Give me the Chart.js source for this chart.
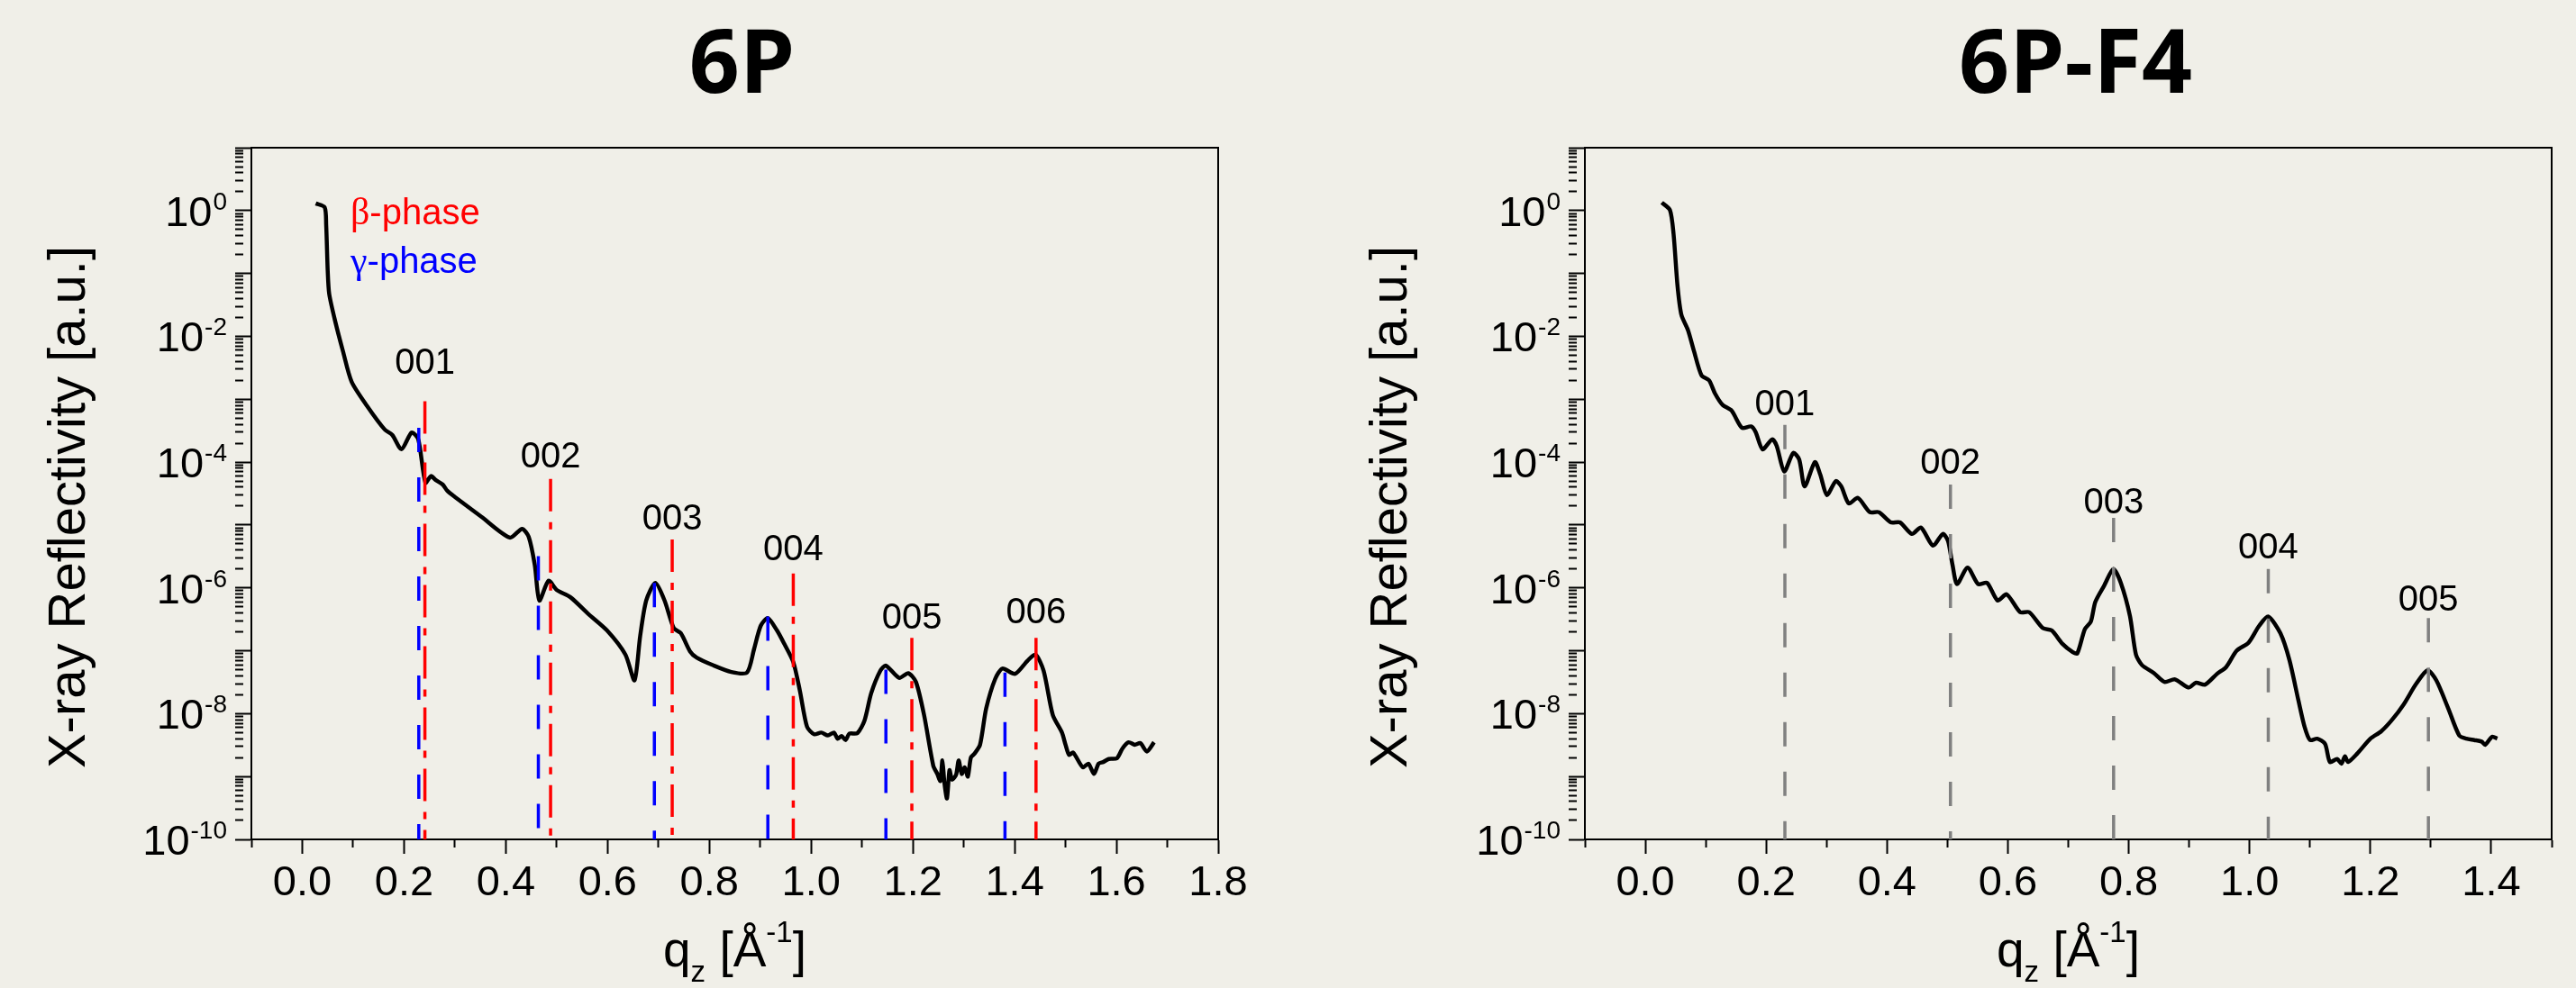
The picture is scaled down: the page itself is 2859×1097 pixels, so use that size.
<!DOCTYPE html>
<html>
<head>
<meta charset="utf-8">
<script src="https://cdn.jsdelivr.net/npm/chart.js@4.4.1/dist/chart.umd.min.js"></script>
<style>
  html, body { margin: 0; padding: 0; background: #f0efe8; }
  #wrap { position: relative; width: 2859px; height: 1097px; overflow: hidden; }
  canvas { position: absolute; top: 0; }
</style>
</head>
<body>
<div id="wrap">
  <canvas id="c6p" width="1430" height="1097" style="left:0"></canvas>
  <canvas id="cf4" width="1429" height="1097" style="left:1430px"></canvas>
</div>
<script>
// ---- 6P curve (q in 1/A, reflectivity a.u.)
const q6P = [0.0265, 0.044, 0.047, 0.050, 0.053, 0.065, 0.080, 0.097, 0.127, 0.162,
  0.177, 0.195, 0.215, 0.228, 0.242, 0.253, 0.262, 0.276, 0.285, 0.301,
  0.352, 0.408, 0.432, 0.445, 0.457, 0.466, 0.484, 0.500, 0.527, 0.563,
  0.599, 0.635, 0.653, 0.664, 0.676, 0.694, 0.712, 0.730, 0.744, 0.762,
  0.775, 0.807, 0.843, 0.874, 0.888, 0.901, 0.915, 0.933, 0.947, 0.965,
  0.978, 0.992, 1.006, 1.020, 1.033, 1.045, 1.052, 1.060, 1.068, 1.075,
  1.091, 1.105, 1.118, 1.136, 1.147, 1.173, 1.191, 1.206, 1.222, 1.240,
  1.248, 1.254, 1.258, 1.262, 1.267, 1.272, 1.277, 1.285, 1.290, 1.296,
  1.302, 1.308, 1.314, 1.321, 1.332, 1.344, 1.362, 1.376, 1.401, 1.425,
  1.441, 1.457, 1.475, 1.493, 1.500, 1.507, 1.515, 1.534, 1.545, 1.556,
  1.565, 1.574, 1.585, 1.601, 1.612, 1.624, 1.636, 1.647, 1.660, 1.674];
const r6P = [1.3, 1.13, 0.59, 0.11, 0.047, 0.017, 5.8e-3, 1.9e-3, 7.9e-4, 3.3e-4,
  2.7e-4, 1.6e-4, 2.95e-4, 2.3e-4, 4.7e-5, 6.0e-5, 5.2e-5, 4.4e-5, 3.5e-5, 2.75e-5,
  1.35e-5, 6.3e-6, 8.7e-6, 6.5e-6, 2.3e-6, 6.3e-7, 1.3e-6, 9.3e-7, 7.1e-7, 3.8e-7,
  2.1e-7, 8.7e-8, 3.4e-8, 1.7e-7, 6.3e-7, 1.2e-6, 6.3e-7, 2.3e-7, 1.9e-7, 9.8e-8,
  7.8e-8, 5.9e-8, 4.6e-8, 4.5e-8, 1.07e-7, 2.5e-7, 3.3e-7, 2.1e-7, 1.3e-7, 6.6e-8,
  2.3e-8, 6.2e-9, 4.7e-9, 5.0e-9, 4.5e-9, 5.0e-9, 4.0e-9, 4.4e-9, 3.8e-9, 4.8e-9,
  4.9e-9, 7.8e-9, 2.1e-8, 4.8e-8, 5.8e-8, 3.7e-8, 4.4e-8, 3.2e-8, 9.5e-9, 1.5e-9,
  1.1e-9, 8.5e-10, 1.8e-9, 7.9e-10, 4.5e-10, 1.26e-9, 8.9e-10, 1.07e-9, 1.8e-9, 1.1e-9,
  1.4e-9, 1.0e-9, 2.0e-9, 2.3e-9, 3.2e-9, 1.2e-8, 3.6e-8, 5.2e-8, 4.3e-8, 6.9e-8,
  8.7e-8, 4.8e-8, 9.5e-9, 5.0e-9, 3.2e-9, 2.2e-9, 2.4e-9, 1.4e-9, 1.6e-9, 1.1e-9,
  1.6e-9, 1.7e-9, 1.9e-9, 1.95e-9, 2.8e-9, 3.5e-9, 3.2e-9, 3.4e-9, 2.5e-9, 3.5e-9];

// beta / gamma phase Bragg positions (top end of each marker line)
const betaQ = [0.241, 0.488, 0.727, 0.965, 1.198, 1.442];
const betaTop = [9.3e-4, 5.4e-5, 5.9e-6, 1.7e-6, 1.6e-7, 1.6e-7];
const gammaQ = [0.229, 0.464, 0.692, 0.915, 1.147, 1.381];
const gammaTop = [3.5e-4, 3.2e-6, 1.2e-6, 3.5e-7, 5.0e-8, 4.5e-8];
const peakNames6P = ['001', '002', '003', '004', '005', '006'];
const peakLabelY6P = [3.6e-3, 1.2e-4, 1.2e-5, 4.0e-6, 3.2e-7, 3.9e-7];

// ---- 6P-F4 curve
const qF4 = [0.0273, 0.0408, 0.0468, 0.0532, 0.0597, 0.0706, 0.0806, 0.093, 0.1055, 0.1154,
  0.128, 0.1428, 0.160, 0.175, 0.1826, 0.194, 0.210, 0.2175, 0.2299, 0.2448,
  0.2547, 0.2637, 0.2806, 0.2896, 0.3005, 0.3154, 0.3244, 0.3368, 0.3517, 0.3716,
  0.3866, 0.4064, 0.4214, 0.4413, 0.4562, 0.4761, 0.4925, 0.501, 0.5085, 0.516,
  0.5334, 0.5507, 0.5657, 0.5831, 0.598, 0.6204, 0.6354, 0.6577, 0.6727, 0.690,
  0.7075, 0.715, 0.7274, 0.7373, 0.7448, 0.7597, 0.7746, 0.787, 0.802, 0.812,
  0.822, 0.842, 0.8592, 0.8766, 0.899, 0.9114, 0.9264, 0.9463, 0.9612, 0.9786,
  0.9985, 1.016, 1.031, 1.051, 1.066, 1.081, 1.091, 1.100, 1.112, 1.125,
  1.133, 1.145, 1.152, 1.158, 1.163, 1.178, 1.200, 1.2175, 1.235, 1.255,
  1.275, 1.2945, 1.309, 1.329, 1.347, 1.359, 1.372, 1.384, 1.390, 1.4015, 1.41];
const rF4 = [1.34, 1.02, 0.42, 0.065, 0.022, 0.0126, 5.8e-3, 2.4e-3, 2.0e-3, 1.23e-3,
  8.1e-4, 6.6e-4, 3.5e-4, 3.7e-4, 3.0e-4, 1.6e-4, 2.3e-4, 1.8e-4, 7.1e-5, 1.4e-4,
  1.1e-4, 4.1e-5, 1.0e-4, 6.3e-5, 3.0e-5, 5.0e-5, 4.1e-5, 2.2e-5, 2.7e-5, 1.6e-5,
  1.6e-5, 1.1e-5, 1.1e-5, 7.2e-6, 9.1e-6, 4.7e-6, 7.2e-6, 5.6e-6, 2.3e-6, 1.15e-6,
  2.1e-6, 1.15e-6, 1.2e-6, 6.3e-7, 7.9e-7, 4.1e-7, 4.1e-7, 2.3e-7, 2.1e-7, 1.3e-7,
  9.5e-8, 9.1e-8, 2.2e-7, 2.9e-7, 6.0e-7, 1.1e-6, 2.0e-6, 1.2e-6, 3.6e-7, 8.7e-8,
  5.9e-8, 4.4e-8, 3.2e-8, 3.5e-8, 2.6e-8, 3.1e-8, 2.9e-8, 4.3e-8, 5.5e-8, 1.0e-7,
  1.35e-7, 2.5e-7, 3.5e-7, 1.9e-7, 7.1e-8, 1.6e-8, 6.2e-9, 3.8e-9, 4.0e-9, 3.3e-9,
  1.7e-9, 1.9e-9, 1.6e-9, 2.1e-9, 1.7e-9, 2.3e-9, 4.0e-9, 5.2e-9, 7.8e-9, 1.4e-8,
  2.9e-8, 4.9e-8, 3.4e-8, 1.2e-8, 4.5e-9, 4.0e-9, 3.8e-9, 3.6e-9, 3.2e-9, 4.3e-9, 4.0e-9];

const f4PeakQ = [0.231, 0.505, 0.775, 1.031, 1.296];
const f4PeakTop = [3.9e-4, 4.4e-5, 1.3e-5, 2.0e-6, 3.3e-7];
const peakNamesF4 = ['001', '002', '003', '004', '005'];
const peakLabelYF4 = [8.1e-4, 9.3e-5, 2.2e-5, 4.3e-6, 6.3e-7];

// ---- axes
const yMin = 1e-10, yMax = 10;
const yDecades = [-10, -9, -8, -7, -6, -5, -4, -3, -2, -1, 0, 1];
const yMinorSteps = [2, 3, 4, 5, 6, 7, 8, 9];
const yLabelExps = [-10, -8, -6, -4, -2, 0];
const xMajor6P = [0, 0.2, 0.4, 0.6, 0.8, 1.0, 1.2, 1.4, 1.6, 1.8];
const xMinor6P = [-0.1, 0.1, 0.3, 0.5, 0.7, 0.9, 1.1, 1.3, 1.5, 1.7];
const xMajorF4 = [0, 0.2, 0.4, 0.6, 0.8, 1.0, 1.2, 1.4];
const xMinorF4 = [-0.1, 0.1, 0.3, 0.5, 0.7, 0.9, 1.1, 1.3, 1.5];

const FONT = 'Liberation Sans';
const GREEK = 'Liberation Serif';

function tickList(major, minor) {
  return major.map(v => ({ value: v, major: true }))
    .concat(minor.map(v => ({ value: v, major: false })))
    .sort((a, b) => a.value - b.value);
}

function yTickList() {
  const out = [];
  yDecades.forEach(e => {
    const base = Math.pow(10, e);
    out.push({ value: base, major: true });
    if (base < yMax) yMinorSteps.forEach(m => out.push({ value: m * base, major: false }));
  });
  return out.sort((a, b) => a.value - b.value);
}

function toPoints(xs, ys) {
  return xs.map((x, i) => ({ x, y: ys[i] }));
}

// vertical marker line from its top value down to the axis
function marker(q, top, color, dash) {
  return {
    data: [{ x: q, y: top }, { x: q, y: yMin }],
    borderColor: color, borderWidth: 3.5, borderDash: dash,
    pointRadius: 0, tension: 0, fill: false
  };
}

// titles, y tick labels, peak names and frame
const decor = {
  id: 'decor',
  afterDraw(chart, args, o) {
    const { ctx, chartArea: a } = chart;
    const xs = chart.scales.x, ys = chart.scales.y;
    ctx.save();

    // top and right frame
    ctx.strokeStyle = '#000';
    ctx.lineWidth = 2;
    ctx.beginPath();
    ctx.moveTo(a.left, a.top);
    ctx.lineTo(a.right, a.top);
    ctx.lineTo(a.right, a.bottom);
    ctx.stroke();

    ctx.fillStyle = '#000';
    // y tick labels 10^n, right edge fixed
    ctx.textBaseline = 'alphabetic';
    ctx.textAlign = 'left';
    yLabelExps.forEach(e => {
      const py = ys.getPixelForValue(Math.pow(10, e));
      const exp = String(e);
      ctx.font = `28px "${FONT}"`;
      const ew = ctx.measureText(exp).width;
      const ex = a.left - 27 - ew;
      ctx.fillText(exp, ex, py - 1);
      ctx.font = `47px "${FONT}"`;
      const bw = ctx.measureText('10').width;
      ctx.fillText('10', ex - bw - 1, py + 17);
    });

    // peak names
    ctx.font = `40px "${FONT}"`;
    ctx.textAlign = 'center';
    ctx.textBaseline = 'middle';
    o.names.forEach((n, i) => {
      ctx.fillText(n, xs.getPixelForValue(o.nameQ[i]), ys.getPixelForValue(o.nameY[i]));
    });

    // phase legend
    ctx.textAlign = 'left';
    ctx.textBaseline = 'alphabetic';
    (o.legend || []).forEach((l, i) => {
      const by = a.top + 85 + i * 54;
      ctx.fillStyle = l.color;
      ctx.font = `42px "${GREEK}"`;
      ctx.fillText(l.greek, a.left + 110, by);
      const gw = ctx.measureText(l.greek).width;
      ctx.font = `40px "${FONT}"`;
      ctx.fillText(l.rest, a.left + 110 + gw, by);
    });
    ctx.fillStyle = '#000';

    // chart title
    ctx.font = `bold 98px "Open Sans"`;
    ctx.textAlign = 'center';
    ctx.fillText(o.title, (a.left + a.right) / 2 + 8, 103);

    // y axis title
    ctx.save();
    ctx.translate(a.left - o.yTitleGap, (a.top + a.bottom) / 2 + 15);
    ctx.rotate(-Math.PI / 2);
    ctx.font = `58px "${FONT}"`;
    ctx.textAlign = 'center';
    ctx.fillText('X-ray Reflectivity [a.u.]', 0, 0);
    ctx.restore();

    // x axis title: q_z [Å^-1]
    const parts = [
      { t: 'q', size: 55, dy: 0 },
      { t: 'z', size: 33, dy: 17 },
      { t: ' [Å', size: 55, dy: 0 },
      { t: '-1', size: 33, dy: -27 },
      { t: ']', size: 55, dy: 0 }
    ];
    let w = 0;
    parts.forEach(p => { ctx.font = `${p.size}px "${FONT}"`; p.w = ctx.measureText(p.t).width; w += p.w; });
    let px = (a.left + a.right) / 2 - w / 2;
    ctx.textAlign = 'left';
    parts.forEach(p => {
      ctx.font = `${p.size}px "${FONT}"`;
      ctx.fillText(p.t, px, 1073 + p.dy);
      px += p.w;
    });

    ctx.restore();
  }
};

function makeChart(id, cfg) {
  const canvas = document.getElementById(id);
  const W = canvas.width;
  return new Chart(canvas.getContext('2d'), {
    type: 'line',
    data: { datasets: cfg.datasets },
    options: {
      responsive: false,
      animation: false,
      devicePixelRatio: 1,
      layout: { padding: { left: 0, top: 164, right: W - cfg.areaRight, bottom: 0 } },
      plugins: {
        legend: { display: false },
        tooltip: { enabled: false },
        decor: cfg.decor
      },
      scales: {
        x: {
          type: 'linear',
          min: -0.1,
          max: cfg.xMax,
          afterBuildTicks: s => { s.ticks = tickList(cfg.xMajor, cfg.xMinor); },
          afterFit: s => { s.height = 165; },
          border: { display: true, color: '#000', width: 2 },
          grid: {
            display: true, drawOnChartArea: false, drawTicks: true,
            tickLength: 16, tickWidth: 2, tickColor: '#000',
            tickBorderDash: c => (c.tick && !c.tick.major ? [8, 200] : [])
          },
          ticks: {
            autoSkip: false, maxRotation: 0, padding: 5, color: '#000',
            font: { family: FONT, size: 47 },
            callback: (v, i, t) => (t[i].major ? v.toFixed(1) : '')
          }
        },
        y: {
          type: 'logarithmic',
          min: yMin,
          max: yMax,
          afterBuildTicks: s => { s.ticks = yTickList(); },
          afterFit: s => { s.width = cfg.areaLeft; },
          border: { display: true, color: '#000', width: 2 },
          grid: {
            display: true, drawOnChartArea: false, drawTicks: true,
            tickLength: 18, tickWidth: 2, tickColor: '#000',
            tickBorderDash: c => (c.tick && !c.tick.major ? [9, 200] : [])
          },
          ticks: { display: false, autoSkip: false, callback: () => '' }
        }
      }
    },
    plugins: [decor]
  });
}

Chart.defaults.font.family = FONT;
Chart.defaults.color = '#000';

// 6P
const sets6P = [];
betaQ.forEach((q, i) => sets6P.push(marker(q, betaTop[i], '#ff0000', [36, 12, 8, 12])));
gammaQ.forEach((q, i) => sets6P.push(marker(q, gammaTop[i], '#0000ff', [27, 28])));
sets6P.push({
  data: toPoints(q6P, r6P), borderColor: '#000', borderWidth: 4.5,
  pointRadius: 0, tension: 0.25, fill: false
});
makeChart('c6p', {
  datasets: sets6P, areaLeft: 279, areaRight: 1352, xMax: 1.8,
  xMajor: xMajor6P, xMinor: xMinor6P,
  decor: {
    title: '6P', yTitleGap: 185,
    names: peakNames6P, nameQ: betaQ, nameY: peakLabelY6P,
    legend: [
      { greek: 'β', rest: '-phase', color: '#ff0000' },
      { greek: 'γ', rest: '-phase', color: '#0000ff' }
    ]
  }
});

// 6P-F4
const setsF4 = [];
f4PeakQ.forEach((q, i) => setsF4.push(marker(q, f4PeakTop[i], '#808080', [27, 28])));
setsF4.push({
  data: toPoints(qF4, rF4), borderColor: '#000', borderWidth: 4.5,
  pointRadius: 0, tension: 0.25, fill: false
});
makeChart('cf4', {
  datasets: setsF4, areaLeft: 329, areaRight: 1402, xMax: 1.5,
  xMajor: xMajorF4, xMinor: xMinorF4,
  decor: {
    title: '6P-F4', yTitleGap: 198,
    names: peakNamesF4, nameQ: f4PeakQ, nameY: peakLabelYF4
  }
});
</script>
</body>
</html>
